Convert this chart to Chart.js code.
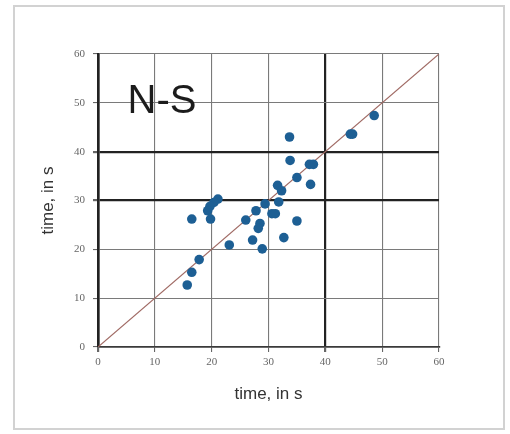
<!DOCTYPE html>
<html>
<head>
<meta charset="utf-8">
<script src="https://cdn.jsdelivr.net/npm/chart.js@4/dist/chart.umd.min.js"></script>
<style>
    body { margin: 0; background: #fff; }
    #wrap { position: relative; width: 510px; height: 434px; }
    #frame {
        position: absolute;
        left: 13px;
        top: 5px;
        width: 488px;
        height: 421px;
        border: 2px solid #d2d2d2;
    }
    #myChart { position: absolute; left: 0; top: 0; }
</style>
</head>
<body>
<div id="wrap">
    <div id="frame"></div>
    <canvas id="myChart" width="510" height="434"></canvas>
</div>
<script>
// measured times, in s
const timesX = [
    48.6, 44.4, 44.8, 33.7, 33.8, 37.2, 37.9, 35.0, 37.4, 31.6, 32.3,
    31.8, 29.4, 27.8, 30.6, 31.2, 26.0, 28.5, 28.2, 27.2, 28.9, 32.7,
    35.0, 23.1, 21.1, 20.4, 19.7, 19.3, 19.8, 16.5, 17.8, 16.5, 15.7
];
const timesY = [
    47.4, 43.6, 43.6, 43.0, 38.2, 37.4, 37.4, 34.7, 33.3, 33.1, 32.0,
    29.7, 29.3, 27.9, 27.3, 27.3, 26.0, 25.3, 24.3, 21.9, 20.1, 22.4,
    25.8, 20.9, 30.3, 29.6, 28.8, 27.9, 26.2, 26.2, 17.9, 15.3, 12.7
];

// x = y reference line
const lineX = [0, 60];
const lineY = [0, 60];

const tickValues = [0, 10, 20, 30, 40, 50, 60];
const axisTitle = 'time, in s';
const panelLabel = 'N-S';

const points = timesX.map((x, i) => {
    return { x: x, y: timesY[i] };
});
const diagonal = lineX.map((x, i) => {
    return { x: x, y: lineY[i] };
});

const tickFont = { family: 'Liberation Serif', size: 11 };
const titleFont = { family: 'Liberation Sans', size: 17 };

// heavier lines at a few values
function gridColor(heavy) {
    return (context) => {
        if (!context.tick) return '#7a7a7a';
        return heavy.includes(context.tick.value) ? '#222222' : '#7a7a7a';
    };
}
function gridWidth(heavy) {
    return (context) => {
        if (!context.tick) return 1;
        return heavy.includes(context.tick.value) ? 2.2 : 1.1;
    };
}

const panelText = {
    id: 'panelText',
    afterDatasetsDraw(chart) {
        const { ctx, scales } = chart;
        ctx.save();
        ctx.font = '40px "Liberation Sans"';
        ctx.fillStyle = '#1c1c1c';
        ctx.textBaseline = 'alphabetic';
        ctx.fillText(panelLabel, scales.x.getPixelForValue(5.2), scales.y.getPixelForValue(48.0));
        ctx.restore();
    }
};

var ctx = document.getElementById('myChart').getContext('2d');
var chart = new Chart(ctx, { //eslint-disable-line
    type: 'scatter',
    data: {
        datasets: [
            {
                label: 'times',
                data: points,
                backgroundColor: '#1d5f94',
                borderWidth: 0,
                pointRadius: 4.8,
                order: 1,
            },
            {
                type: 'line',
                label: 'x = y',
                data: diagonal,
                borderColor: '#a06a64',
                borderWidth: 1.2,
                pointRadius: 0,
                fill: false,
                order: 2,
            }
        ]
    },
    options: {
        responsive: false,
        animation: false,
        layout: { padding: { top: 54, right: 71, left: 0, bottom: 0 } },
        plugins: {
            legend: { display: false },
            tooltip: { enabled: false },
        },
        scales: {
            x: {
                type: 'linear',
                min: 0,
                max: 60,
                afterFit: (scale) => { scale.height = 87; },
                afterBuildTicks: (scale) => {
                    scale.ticks = tickValues.map((v) => ({ value: v }));
                },
                grid: {
                    color: gridColor([0, 40]),
                    lineWidth: gridWidth([0, 40]),
                    tickColor: '#666',
                    tickLength: 5,
                },
                border: { color: '#3a3a3a', width: 1.8 },
                ticks: { font: tickFont, color: '#666', padding: 4 },
                title: {
                    display: true,
                    text: axisTitle,
                    font: titleFont,
                    color: '#333',
                    align: 'center',
                    padding: { top: 0, bottom: 29 },
                },
            },
            y: {
                type: 'linear',
                min: 0,
                max: 60,
                afterFit: (scale) => { scale.width = 98; },
                afterBuildTicks: (scale) => {
                    scale.ticks = tickValues.map((v) => ({ value: v }));
                },
                grid: {
                    color: gridColor([30, 40]),
                    lineWidth: gridWidth([30, 40]),
                    tickColor: '#666',
                    tickLength: 5,
                },
                border: { color: '#222', width: 2.6 },
                ticks: { font: tickFont, color: '#666', padding: 8 },
                title: {
                    display: true,
                    text: axisTitle,
                    font: titleFont,
                    color: '#333',
                    padding: { top: 38, bottom: 0 },
                },
            }
        }
    },
    plugins: [panelText]
});
</script>
</body>
</html>
